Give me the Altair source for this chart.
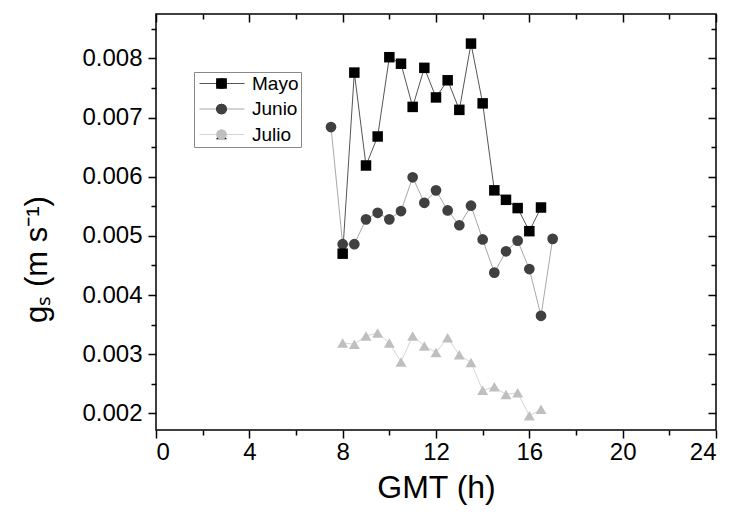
import altair as alt
import pandas as pd

series_names = ["Mayo", "Junio", "Julio"]

mayo_hours = [8, 8.5, 9, 9.5, 10, 10.5, 11, 11.5, 12, 12.5, 13, 13.5, 14, 14.5, 15, 15.5, 16, 16.5]
mayo_gs = [0.00470, 0.00776, 0.00619, 0.00668, 0.00802, 0.00791, 0.00718, 0.00784, 0.00734,
           0.00763, 0.00713, 0.00825, 0.00724, 0.00577, 0.00561, 0.00547, 0.00508, 0.00548]

junio_hours = [7.5, 8, 8.5, 9, 9.5, 10, 10.5, 11, 11.5, 12, 12.5, 13, 13.5, 14, 14.5, 15, 15.5, 16, 16.5, 17]
junio_gs = [0.00684, 0.00486, 0.00486, 0.00528, 0.00539, 0.00528, 0.00542, 0.00599, 0.00556, 0.00577,
            0.00543, 0.00518, 0.00551, 0.00494, 0.00438, 0.00474, 0.00492, 0.00444, 0.00365, 0.00495]

julio_hours = [8, 8.5, 9, 9.5, 10, 10.5, 11, 11.5, 12, 12.5, 13, 13.5, 14, 14.5, 15, 15.5, 16, 16.5]
julio_gs = [0.00319, 0.00317, 0.00331, 0.00336, 0.00319, 0.00287, 0.00331, 0.00314, 0.00303,
            0.00328, 0.00299, 0.00286, 0.00239, 0.00245, 0.00232, 0.00235, 0.00196, 0.00207]

x_ticks = [0, 2, 4, 6, 8, 10, 12, 14, 16, 18, 20, 22, 24]
y_ticks = [0.002, 0.0025, 0.003, 0.0035, 0.004, 0.0045, 0.005, 0.0055, 0.006, 0.0065,
           0.007, 0.0075, 0.008, 0.0085]

marker_colors = ["#000000", "#404040", "#bfbfbf"]
line_colors = ["#555555", "#a8a8a8", "#d6d6d6"]
marker_shapes = ["square", "circle", "triangle-up"]
marker_sizes = [110, 120, 160]

rows = []
for name, hrs, vals in [("Julio", julio_hours, julio_gs), ("Junio", junio_hours, junio_gs),
                        ("Mayo", mayo_hours, mayo_gs)]:
    for h, v in zip(hrs, vals):
        rows.append({"series": name, "hour": h, "gs": v})
df = pd.DataFrame(rows)

FONT = "Liberation Sans"
xscale = alt.Scale(domain=[0, 24], nice=False, zero=False)
yscale = alt.Scale(domain=[0.00172, 0.00875], nice=False, zero=False)

x_major = "datum.value % 4 === 0"
y_major = "abs(datum.value*1000 - round(datum.value*1000)) < 0.01"

bottom_axis = alt.Axis(
    orient="bottom", values=x_ticks, grid=False, domain=False,
    labelExpr=f"{x_major} ? datum.label : ''",
    tickSize={"condition": {"test": x_major, "value": 8}, "value": 5},
    labelPadding=2, labelFontSize=24,
    title="GMT (h)", titleFontSize=32, titleFontWeight="normal",
    titleY=67, titleBaseline="alphabetic",
)
left_axis = alt.Axis(
    orient="left", values=y_ticks, grid=False, domain=False,
    labelExpr=f"{y_major} ? format(datum.value, '.3f') : ''",
    tickSize={"condition": {"test": y_major, "value": 8}, "value": 5},
    labelPadding=6, labelFontSize=24,
    title="gₛ  (m s⁻¹)", titleFontSize=31, titleFontWeight="normal",
    titleAngle=270, titleX=-119, titleY=245, titleAlign="center", titleBaseline="middle",
)
top_axis = alt.Axis(
    orient="top", values=x_ticks, grid=False, domain=False, labels=False, title=None,
    tickSize=alt.ExprRef(expr=f"{x_major} ? -8 : -5"),
)
right_axis = alt.Axis(
    orient="right", values=y_ticks, grid=False, domain=False, labels=False, title=None,
    tickSize=alt.ExprRef(expr=f"{y_major} ? -8 : -5"),
)

line_legend = alt.Legend(
    title=None, orient="none", legendX=38, legendY=58, direction="vertical",
    symbolType="stroke", symbolSize=2025, symbolStrokeWidth=1,
    labelFont=FONT, labelFontSize=19, labelColor="black",
    padding=2, symbolOffset=3, labelOffset=7, clipHeight=19, rowPadding=5.5,
    strokeColor="#888888",
)
marker_legend = alt.Legend(
    title=None, orient="none", legendX=54, legendY=58, direction="vertical",
    symbolSize=115, symbolStrokeWidth=0,
    labelExpr="''", labelFontSize=19,
    padding=2, labelOffset=0, clipHeight=19, rowPadding=5.5,
)

lines = alt.Chart(df).mark_line(strokeWidth=1).encode(
    x=alt.X("hour:Q", scale=xscale, axis=bottom_axis),
    y=alt.Y("gs:Q", scale=yscale, axis=left_axis),
    stroke=alt.Stroke("series:N", scale=alt.Scale(domain=series_names, range=line_colors),
                      legend=line_legend),
)

points = alt.Chart(df).mark_point(filled=True, opacity=1, strokeWidth=0).encode(
    x=alt.X("hour:Q", scale=xscale, axis=None),
    y=alt.Y("gs:Q", scale=yscale, axis=None),
    fill=alt.Fill("series:N", sort=series_names, scale=alt.Scale(range=marker_colors),
                  legend=marker_legend),
    shape=alt.Shape("series:N", sort=series_names, scale=alt.Scale(range=marker_shapes),
                    legend=marker_legend),
    size=alt.Size("series:N", sort=series_names, scale=alt.Scale(range=marker_sizes), legend=None),
)

frame = alt.Chart(df).mark_point(opacity=0).encode(
    x=alt.X("hour:Q", scale=xscale, axis=top_axis),
    y=alt.Y("gs:Q", scale=yscale, axis=right_axis),
)

chart = (
    alt.layer(lines, points, frame)
    .resolve_axis(x="independent", y="independent")
    .properties(
        width=560, height=416,
        autosize=alt.AutoSizeParams(type="none"),
        padding={"left": 148, "top": 6, "right": 7, "bottom": 77},
    )
    .configure_view(stroke="black", strokeWidth=1.5)
    .configure_axis(
        labelFont=FONT, titleFont=FONT, labelColor="black", titleColor="black",
        tickColor="black", tickWidth=1.5,
    )
    .configure_legend(labelFont=FONT)
)

chart.save("out.html", embed_options={"renderer": "svg", "actions": False})
